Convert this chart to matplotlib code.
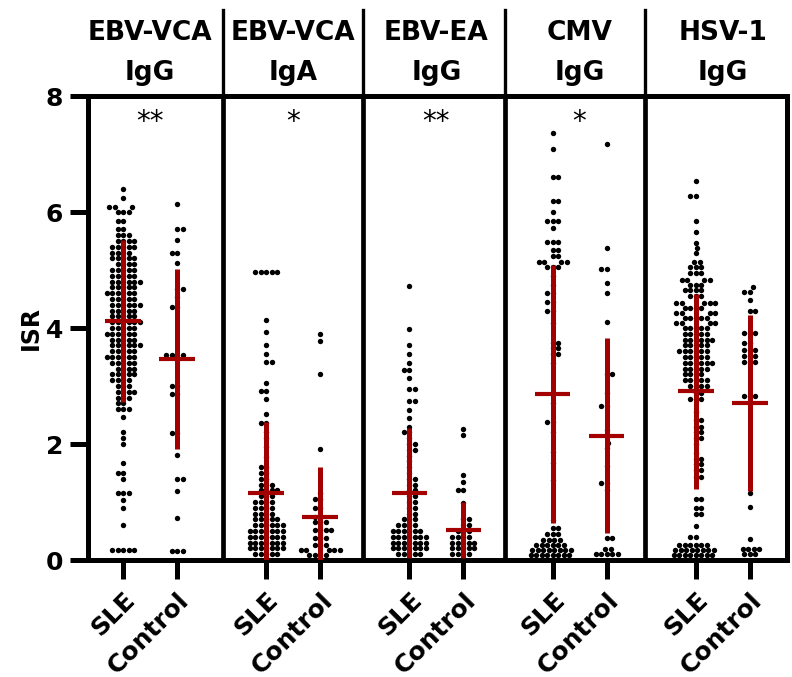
import numpy as np
import matplotlib.pyplot as plt

antigens = ["EBV-VCA", "EBV-VCA", "EBV-EA", "CMV", "HSV-1"]
isotypes = ["IgG", "IgA", "IgG", "IgG", "IgG"]
groups = ["SLE", "Control"]
stars = ["**", "*", "**", "*", ""]

# (ISR value, number of dots at that value)
sle_vca_igg = [(0.17, 5), (0.6, 1), (0.9, 1), (1.03, 1), (1.15, 3), (1.4, 1), (1.5, 2),
               (1.67, 1), (2.0, 1), (2.1, 1), (2.2, 1), (2.47, 1), (2.6, 3),
               (2.7, 2), (2.8, 3), (2.9, 4), (3.0, 3), (3.1, 4), (3.2, 5), (3.3, 4),
               (3.4, 5), (3.5, 6), (3.6, 5), (3.7, 6), (3.8, 5), (3.9, 6), (4.0, 5),
               (4.1, 6), (4.2, 5), (4.3, 5), (4.4, 6), (4.5, 5), (4.6, 6), (4.7, 5),
               (4.8, 6), (4.9, 5), (5.0, 5), (5.1, 4), (5.2, 5), (5.3, 4), (5.4, 5),
               (5.5, 4), (5.6, 3), (5.7, 2), (5.85, 2), (6.0, 3), (6.08, 3), (6.24, 1),
               (6.4, 1)]
ctl_vca_igg = [(0.15, 3), (0.72, 1), (1.19, 1), (1.4, 2), (1.81, 1), (2.19, 2), (2.86, 2),
               (3.0, 2), (3.53, 4), (4.36, 2), (4.53, 1), (4.67, 2), (5.12, 1), (5.3, 2),
               (5.52, 1), (5.7, 2), (6.13, 1)]
sle_vca_iga = [(0.1, 5), (0.2, 7), (0.3, 7), (0.4, 7), (0.5, 7), (0.6, 6), (0.7, 5),
               (0.8, 4), (0.9, 4), (1.0, 4), (1.1, 3), (1.2, 4), (1.3, 3), (1.4, 2),
               (1.5, 2), (1.6, 2), (1.78, 1), (1.95, 1), (2.1, 1), (2.2, 1), (2.36, 2),
               (2.52, 1), (2.78, 1), (2.92, 2), (3.05, 1), (3.41, 2), (3.55, 1), (3.7, 1),
               (3.93, 1), (4.14, 1), (4.97, 5)]
ctl_vca_iga = [(0.09, 4), (0.17, 5), (0.26, 3), (0.38, 3), (0.52, 4), (0.65, 3), (0.75, 2),
               (0.9, 2), (1.05, 2), (1.16, 1), (1.92, 1), (3.2, 1), (3.78, 1), (3.9, 1)]
sle_ea_igg = [(0.1, 5), (0.2, 7), (0.3, 7), (0.4, 7), (0.5, 6), (0.6, 4), (0.7, 3),
              (0.8, 2), (0.9, 2), (1.0, 2), (1.1, 2), (1.2, 2), (1.3, 2), (1.4, 2),
              (1.5, 1), (1.6, 1), (1.7, 1), (1.8, 1), (1.9, 2), (2.0, 2), (2.1, 1),
              (2.2, 2), (2.3, 1), (2.44, 1), (2.59, 1), (2.75, 2), (2.95, 2), (3.13, 1),
              (3.27, 2), (3.4, 1), (3.56, 1), (3.7, 1), (3.98, 1), (4.72, 1)]
ctl_ea_igg = [(0.1, 4), (0.2, 5), (0.3, 5), (0.4, 4), (0.5, 3), (0.6, 2), (0.7, 2),
              (0.98, 1), (1.2, 2), (1.35, 1), (1.47, 1), (2.16, 1), (2.26, 1)]
sle_cmv_igg = [(0.08, 8), (0.17, 8), (0.26, 6), (0.35, 4), (0.45, 3), (0.55, 2), (0.69, 1),
               (1.38, 1), (1.67, 1), (1.86, 1), (2.2, 1), (2.38, 2), (2.7, 1), (2.88, 1),
               (3.4, 1), (3.55, 2), (3.65, 2), (3.75, 2), (4.09, 1), (4.3, 2), (4.45, 2),
               (4.6, 2), (4.75, 1), (4.9, 1), (5.05, 3), (5.13, 4), (5.25, 2), (5.35, 2),
               (5.48, 3), (5.73, 1), (5.85, 3), (6.0, 1), (6.19, 2), (6.6, 2), (7.08, 1),
               (7.36, 1)]
ctl_cmv_igg = [(0.1, 5), (0.19, 2), (0.38, 2), (1.2, 1), (1.32, 2), (1.62, 1), (1.93, 1),
               (2.02, 1), (2.24, 1), (2.66, 2), (2.88, 1), (3.2, 2), (4.1, 1), (4.6, 1),
               (4.78, 1), (5.02, 2), (5.38, 1), (7.17, 1)]
sle_hsv_igg = [(0.08, 8), (0.17, 8), (0.26, 6), (0.4, 2), (0.58, 1), (0.8, 2), (0.9, 2),
               (1.05, 2), (1.43, 2), (1.55, 2), (1.65, 2), (1.75, 2), (1.85, 1), (2.0, 1),
               (2.1, 2), (2.2, 2), (2.3, 2), (2.42, 2), (2.55, 1), (2.77, 3), (2.88, 2),
               (3.0, 4), (3.1, 5), (3.2, 4), (3.3, 5), (3.4, 6), (3.5, 5), (3.6, 6),
               (3.7, 5), (3.8, 6), (3.9, 5), (4.0, 5), (4.08, 4), (4.18, 5), (4.26, 4),
               (4.35, 4), (4.43, 5), (4.55, 3), (4.65, 4), (4.75, 3), (4.83, 4), (4.95, 3),
               (5.05, 3), (5.14, 2), (5.29, 1), (5.38, 1), (5.47, 1), (5.66, 1), (5.84, 1),
               (6.27, 2), (6.53, 1)]
ctl_hsv_igg = [(0.1, 3), (0.19, 4), (0.36, 1), (0.92, 1), (1.16, 1), (2.82, 3), (3.42, 3),
               (3.52, 3), (3.62, 3), (3.74, 2), (3.91, 3), (4.3, 2), (4.48, 1), (4.62, 2),
               (4.7, 1)]

data = [[sle_vca_igg, ctl_vca_igg], [sle_vca_iga, ctl_vca_iga], [sle_ea_igg, ctl_ea_igg],
        [sle_cmv_igg, ctl_cmv_igg], [sle_hsv_igg, ctl_hsv_igg]]

# mean and SD as drawn by the red bars
means = [[4.12, 3.47], [1.15, 0.74], [1.15, 0.52], [2.86, 2.14], [2.91, 2.71]]
sds = [[1.40, 1.55], [1.23, 0.86], [1.12, 0.48], [2.22, 1.68], [1.68, 1.52]]

PITCH = 2.65
XPX, YPX = 54.0, 58.0   # pixels per data unit
RED = "#a30000"


def swarm(values, diam=5.4):
    ys = np.sort(np.asarray(values)) * YPX
    placed = []
    xs = []
    for i, y in enumerate(ys):
        near = [(px, py) for px, py in placed if abs(py - y) < diam]
        best = 0.0
        for k in range(400):
            if k == 0:
                cands = (0.0,)
            else:
                cands = (k * 0.5, -k * 0.5) if i % 2 == 0 else (-k * 0.5, k * 0.5)
            ok = [c for c in cands
                  if all((c - px) ** 2 + (y - py) ** 2 >= diam ** 2 for px, py in near)]
            if ok:
                best = ok[0]
                break
        placed.append((best, y))
        xs.append(best / XPX)
    return np.array(xs), ys / YPX


fig = plt.figure(figsize=(7.92, 6.77), dpi=100)
ax = fig.add_axes([88 / 792, 1 - 560 / 677, 699 / 792, 464 / 677])

xticks = []
for i in range(5):
    for j in range(2):
        xc = i * PITCH + j
        xticks.append(xc)
        vals = np.repeat([v for v, n in data[i][j]], [n for v, n in data[i][j]])
        dx, yy = swarm(vals)
        ax.scatter(xc + dx, yy, s=15, color="black", linewidths=0, zorder=3)
        m, sd = means[i][j], sds[i][j]
        ax.plot([xc, xc], [m - sd, m + sd], color=RED, lw=3.6, zorder=4,
                solid_capstyle="butt")
        ax.plot([xc - 0.33, xc + 0.33], [m, m], color=RED, lw=3.0, zorder=4,
                solid_capstyle="butt")
    mid = i * PITCH + 0.5
    ax.text(mid, 8.97, antigens[i], ha="center", va="baseline", fontsize=19,
            fontweight="bold")
    ax.text(mid, 8.28, isotypes[i], ha="center", va="baseline", fontsize=19,
            fontweight="bold")
    if stars[i]:
        ax.text(mid, 7.55, stars[i], ha="center", va="center", fontsize=20)

# panel dividers
for xd in [1.85, 4.44, 7.07, 9.66]:
    ax.plot([xd, xd], [0, 8], color="black", lw=3.4, zorder=5, clip_on=False)
    ax.plot([xd, xd], [8, 9.48], color="black", lw=2.4, zorder=5, clip_on=False)

ax.set_xlim(-0.65, 12.29)
ax.set_ylim(0, 8)
ax.set_yticks([0, 2, 4, 6, 8])
ax.set_xticks(xticks)
ax.set_xticklabels(groups * 5, rotation=45, ha="right", rotation_mode="anchor",
                   fontsize=18, fontweight="bold")
for lab in ax.get_yticklabels():
    lab.set_fontsize(18)
    lab.set_fontweight("bold")
ax.tick_params(axis="y", width=3.6, length=13, pad=5)
ax.tick_params(axis="x", width=3.6, length=14, pad=6)
for sp in ax.spines.values():
    sp.set_linewidth(3.6)
ax.set_ylabel("ISR", fontsize=17, fontweight="bold", labelpad=2)

fig.savefig("out.png", dpi=100)
